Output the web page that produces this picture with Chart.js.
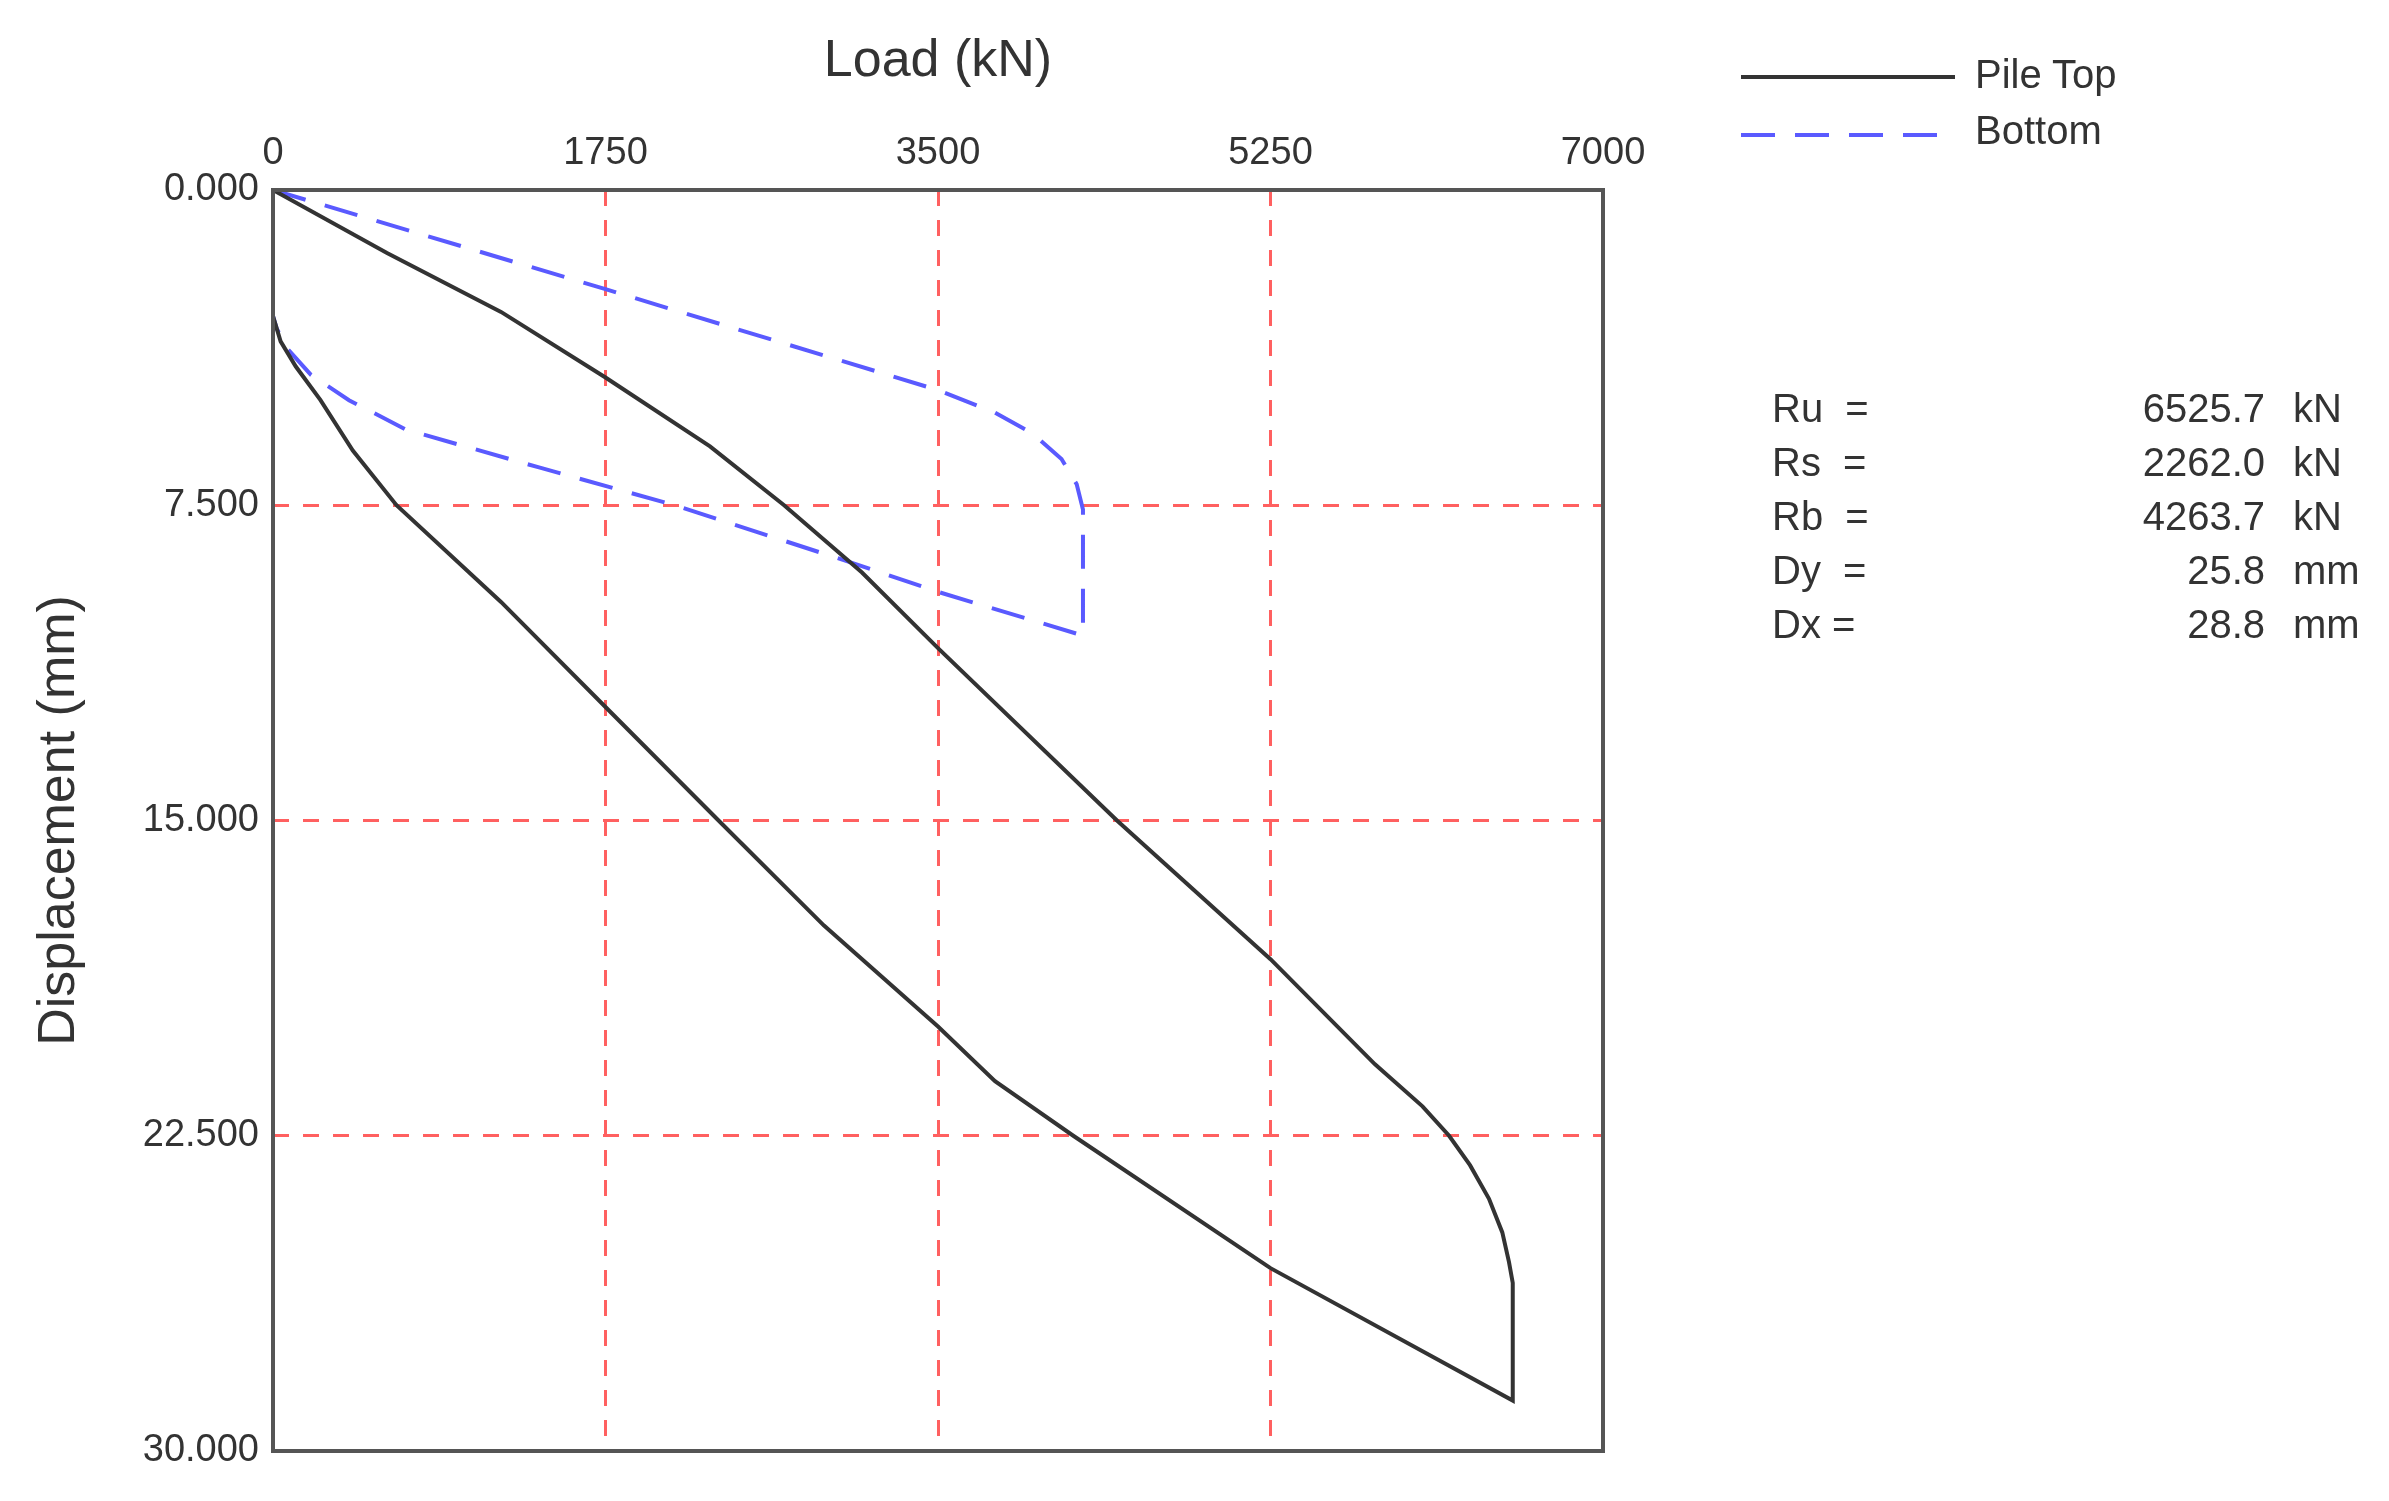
<!DOCTYPE html>
<html>
<head>
<meta charset="utf-8">
<script src="https://cdn.jsdelivr.net/npm/chart.js@4.4.1/dist/chart.umd.min.js"></script>
<style>
  html, body { margin: 0; padding: 0; background: #fff; }
  #wrap { position: relative; width: 2389px; height: 1501px; }
  .txt { position: absolute; font-family: "Liberation Sans", Arial, sans-serif; color: #333; font-size: 40px; white-space: pre; }
</style>
</head>
<body>
<div id="wrap">
  <canvas id="myChart" width="2389" height="1501"></canvas>
  <div class="txt" style="left:1975px;top:52px;">Pile Top</div>
  <div class="txt" style="left:1975px;top:108px;">Bottom</div>
  <div class="txt" style="left:1772px;top:386px;">Ru  =</div>
  <div class="txt" style="left:1772px;top:440px;">Rs  =</div>
  <div class="txt" style="left:1772px;top:494px;">Rb  =</div>
  <div class="txt" style="left:1772px;top:548px;">Dy  =</div>
  <div class="txt" style="left:1772px;top:602px;">Dx =</div>
  <div class="txt" style="left:2050px;top:386px;width:215px;text-align:right;">6525.7</div>
  <div class="txt" style="left:2050px;top:440px;width:215px;text-align:right;">2262.0</div>
  <div class="txt" style="left:2050px;top:494px;width:215px;text-align:right;">4263.7</div>
  <div class="txt" style="left:2050px;top:548px;width:215px;text-align:right;">25.8</div>
  <div class="txt" style="left:2050px;top:602px;width:215px;text-align:right;">28.8</div>
  <div class="txt" style="left:2293px;top:386px;">kN</div>
  <div class="txt" style="left:2293px;top:440px;">kN</div>
  <div class="txt" style="left:2293px;top:494px;">kN</div>
  <div class="txt" style="left:2293px;top:548px;">mm</div>
  <div class="txt" style="left:2293px;top:602px;">mm</div>
</div>
<script>
// Load (kN) vs displacement (mm)
const pileTopLoad = [0, 600, 1200, 1750, 2300, 2690, 3100, 3500, 4442, 5250, 5800, 6050, 6190, 6300, 6400, 6470, 6505, 6525, 6525,
  5250, 4212, 3800, 3500, 2900, 2345, 1750, 1200, 650, 420, 250, 120, 40, 0];
const pileTopDisp = [0, 1.5, 2.9, 4.46, 6.1, 7.5, 9.1, 10.9, 15.0, 18.3, 20.8, 21.8, 22.5, 23.2, 24.0, 24.8, 25.5, 26.0, 28.8,
  25.65, 22.5, 21.2, 19.9, 17.5, 15.0, 12.3, 9.8, 7.5, 6.2, 5.0, 4.2, 3.6, 3.0];
const bottomLoad = [0, 1750, 3500, 3800, 4000, 4150, 4230, 4263, 4263, 3500, 3000, 2115, 1400, 700, 400, 200, 80, 20, 0];
const bottomDisp = [0, 2.36, 4.76, 5.3, 5.8, 6.4, 7.0, 7.6, 10.6, 9.56, 8.8, 7.5, 6.6, 5.7, 5.0, 4.4, 3.8, 3.3, 3.0];
const xTicks = [0, 1750, 3500, 5250, 7000];
const yTicks = [0, 7.5, 15, 22.5, 30];

const toPoints = (xs, ys) => xs.map((x, i) => ({ x: x, y: ys[i] }));

const frame = {
  id: 'frame',
  afterDatasetsDraw(chart) {
    const a = chart.chartArea;
    const ctx = chart.ctx;
    ctx.save();
    ctx.strokeStyle = '#555';
    ctx.lineWidth = 4;
    ctx.strokeRect(a.left, a.top, a.right - a.left, a.bottom - a.top);
    // legend lines
    ctx.lineWidth = 4;
    ctx.strokeStyle = '#333';
    ctx.beginPath(); ctx.moveTo(1741, 77); ctx.lineTo(1955, 77); ctx.stroke();
    ctx.strokeStyle = '#5a5aff';
    ctx.setLineDash([34, 20]);
    ctx.beginPath(); ctx.moveTo(1741, 135); ctx.lineTo(1955, 135); ctx.stroke();
    ctx.restore();
  }
};

const font = { family: '"Liberation Sans", Arial, sans-serif', size: 38 };

new Chart(document.getElementById('myChart'), {
  type: 'scatter',
  data: {
    datasets: [
      { label: 'Pile Top', data: toPoints(pileTopLoad, pileTopDisp), showLine: true,
        borderColor: '#333', borderWidth: 4, pointRadius: 0, tension: 0 },
      { label: 'Bottom', data: toPoints(bottomLoad, bottomDisp), showLine: true,
        borderColor: '#5a5aff', borderWidth: 4, borderDash: [34, 20], pointRadius: 0, tension: 0 }
    ]
  },
  options: {
    responsive: false,
    animation: false,
    layout: { padding: { left: 28, right: 786, top: 0, bottom: 50 } },
    plugins: { legend: { display: false }, tooltip: { enabled: false } },
    scales: {
      x: {
        position: 'top', min: 0, max: 7000,
        afterBuildTicks: (s) => { s.ticks = xTicks.map((v) => ({ value: v })); },
        afterFit: (s) => { s.height = 190; },
        ticks: { font: font, color: '#333', padding: 14, maxRotation: 0, callback: (v) => String(v) },
        grid: { color: '#ff6060', lineWidth: 3, drawTicks: false },
        border: { display: false, dash: [16, 14] },
        title: { display: true, text: 'Load (kN)', font: { family: font.family, size: 52 }, color: '#333', padding: { top: 30, bottom: 10 } }
      },
      y: {
        reverse: true, min: 0, max: 30,
        afterBuildTicks: (s) => { s.ticks = yTicks.map((v) => ({ value: v })); },
        afterFit: (s) => { s.width = 245; },
        ticks: { font: font, color: '#333', padding: 14, callback: (v) => v.toFixed(3) },
        grid: { color: '#ff6060', lineWidth: 3, drawTicks: false },
        border: { display: false, dash: [16, 14] },
        title: { display: true, text: 'Displacement (mm)', font: { family: font.family, size: 52 }, color: '#333', padding: { top: 0, bottom: 10 } }
      }
    }
  },
  plugins: [frame]
});
</script>
</body>
</html>
